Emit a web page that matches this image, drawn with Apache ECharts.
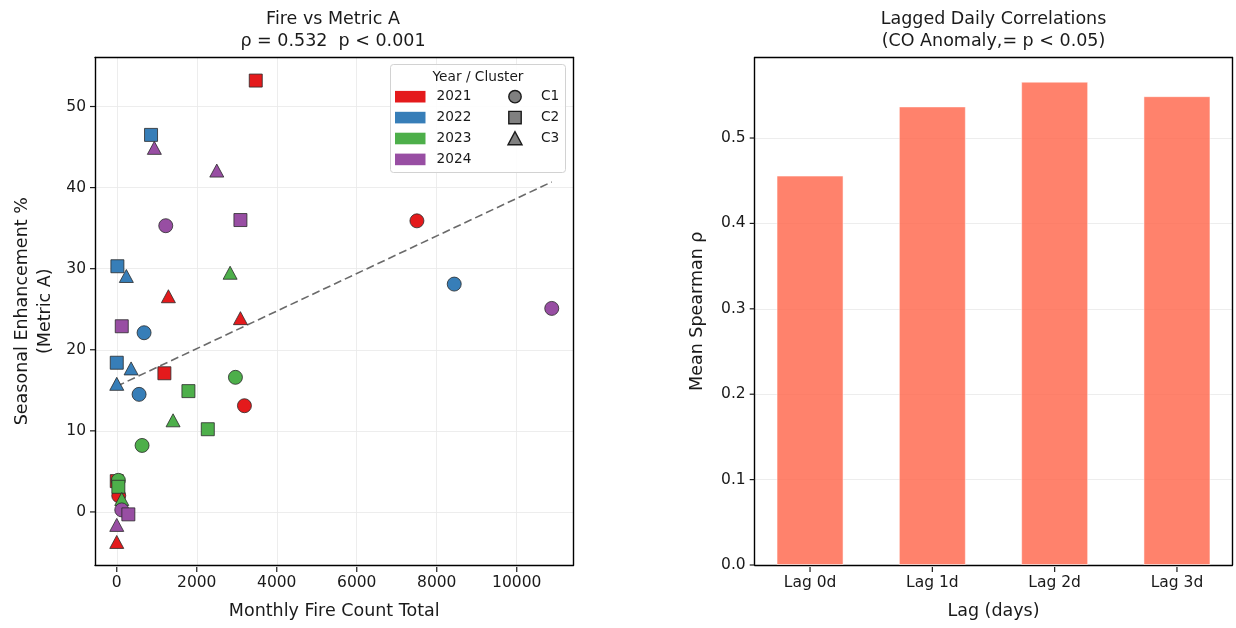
<!DOCTYPE html>
<html>
<head>
<meta charset="utf-8">
<script src="https://cdn.jsdelivr.net/npm/echarts@6/dist/echarts.min.js"></script>
<style>
  html, body { margin: 0; padding: 0; background: #ffffff; }
  #chart { width: 1236px; height: 628px; }
</style>
</head>
<body>
<div id="chart"></div>
<script>
// Monthly fire count vs. seasonal enhancement, one list per year: [fire count, enhancement %, cluster]
const points2021 = [[3475, 53.2, 'C2'], [1291, 26.6, 'C3'], [3092, 23.9, 'C3'], [7504, 35.9, 'C1'], [1191, 17.1, 'C2'], [3192, 13.1, 'C1'], [0, 3.8, 'C2'], [50, 2.0, 'C1'], [0, -3.7, 'C3']];
const points2022 = [[857, 46.5, 'C2'], [16, 30.3, 'C2'], [240, 29.1, 'C3'], [683, 22.1, 'C1'], [8437, 28.1, 'C1'], [0, 18.4, 'C2'], [358, 17.7, 'C3'], [0, 15.8, 'C3'], [558, 14.5, 'C1']];
const points2023 = [[2834, 29.5, 'C3'], [2967, 16.6, 'C1'], [1792, 14.9, 'C2'], [1408, 11.3, 'C3'], [2276, 10.2, 'C2'], [633, 8.2, 'C1'], [40, 3.9, 'C1'], [40, 3.1, 'C2'], [125, 1.6, 'C3']];
const points2024 = [[940, 44.9, 'C3'], [2501, 42.1, 'C3'], [3092, 36.0, 'C2'], [1225, 35.3, 'C1'], [125, 22.9, 'C2'], [10875, 25.1, 'C1'], [125, 0.25, 'C1'], [290, -0.3, 'C2'], [0, -1.6, 'C3']];

const years = ['2021', '2022', '2023', '2024'];
const clusters = ['C1', 'C2', 'C3'];

// Least-squares trend, end points over the fire-count range
const trendLine = [[0, 15.5], [10875, 40.7]];

// Lagged daily correlations
const lagLabels = ['Lag 0d', 'Lag 1d', 'Lag 2d', 'Lag 3d'];
const lagRho = [0.456, 0.537, 0.566, 0.549];

// Tick values
const fireTicks = [0, 2000, 4000, 6000, 8000, 10000];
const metricTicks = [0, 10, 20, 30, 40, 50];
const lagTicks = [0, 1, 2, 3];
const rhoTicks = [0, 0.1, 0.2, 0.3, 0.4, 0.5];

// Axis extents (data range plus 5% margin)
const fireRange = [-544, 11419];
const metricRange = [-6.545, 56.045];
const lagRange = [-0.4525, 3.4525];
const rhoRange = [0, 0.5943];

// Plot boxes
const gridBoxes = [
  { left: 95, top: 57.5, width: 478.5, height: 509.5 },
  { left: 754.7, top: 57.5, width: 477.6, height: 509.5 }
];

// ---- styling ----
const FONT = '"DejaVu Sans", "Liberation Sans", sans-serif';
const INK = '#1a1a1a';
const GRID_LINE = '#e8e8e8';
const TICK_LEN = 5;
const yearColors = ['#e41a1c', '#377eb8', '#4daf4a', '#984ea3'];
const clusterSymbol = { C1: 'circle', C2: 'rect', C3: 'triangle' };
const clusterSize = { C1: 14, C2: 13, C3: [14, 13] };
const pointsByYear = [points2021, points2022, points2023, points2024];

const labelStyle = { color: INK, fontFamily: FONT, fontSize: 15.5 };
const nameStyle = { color: INK, fontFamily: FONT, fontSize: 17.5, lineHeight: 23 };
const spine = { show: true, onZero: false, lineStyle: { color: '#000', width: 1.4 } };

const scatterSeries = [];
years.forEach((yr, i) => {
  clusters.forEach(c => {
    scatterSeries.push({
      type: 'scatter',
      name: yr + ' ' + c,
      xAxisIndex: 0,
      yAxisIndex: 0,
      data: pointsByYear[i].filter(p => p[2] === c).map(p => [p[0], p[1]]),
      symbol: clusterSymbol[c],
      symbolSize: clusterSize[c],
      itemStyle: { color: yearColors[i], borderColor: '#2a2a2a', borderWidth: 0.8, opacity: 1 },
      emphasis: { disabled: true },
      z: 4
    });
  });
});

// Legend box (years as colour patches, clusters as grey markers)
const legendRows = [96.7, 117.6, 138.5, 159.4];
const legendGraphics = [
  { type: 'rect', shape: { x: 390.5, y: 64.5, width: 175, height: 108, r: 3 },
    style: { fill: 'rgba(255,255,255,0.85)', stroke: '#d2d2d2', lineWidth: 1 }, z: 20 },
  { type: 'text', x: 478, y: 77, z: 21,
    style: { text: 'Year / Cluster', font: '13.7px ' + FONT, fill: INK, align: 'center', verticalAlign: 'middle' } }
];
years.forEach((yr, i) => {
  const y = legendRows[i];
  legendGraphics.push(
    { type: 'rect', shape: { x: 395, y: y - 5.8, width: 30.5, height: 11.6 },
      style: { fill: yearColors[i] }, z: 21 },
    { type: 'text', x: 436.5, y: y, z: 21,
      style: { text: yr, font: '13.7px ' + FONT, fill: INK, align: 'left', verticalAlign: 'middle' } }
  );
});
const mk = { fill: '#808080', stroke: '#1a1a1a', lineWidth: 1.4 };
legendGraphics.push(
  { type: 'circle', shape: { cx: 515, cy: legendRows[0], r: 6.2 }, style: mk, z: 21 },
  { type: 'rect', shape: { x: 508.8, y: legendRows[1] - 6.2, width: 12.4, height: 12.4 }, style: mk, z: 21 },
  { type: 'polygon', shape: { points: [[515, legendRows[2] - 6.8], [508, legendRows[2] + 6.2], [522, legendRows[2] + 6.2]] }, style: mk, z: 21 }
);
clusters.forEach((c, i) => {
  legendGraphics.push({ type: 'text', x: 541, y: legendRows[i], z: 21,
    style: { text: c, font: '13.7px ' + FONT, fill: INK, align: 'left', verticalAlign: 'middle' } });
});

const chart = echarts.init(document.getElementById('chart'), null, { renderer: 'canvas' });

const titleText = { color: INK, fontFamily: FONT, fontSize: 17.5, fontWeight: 'normal', lineHeight: 21.5 };
const plainSpine = (extra) => Object.assign({ type: 'value', axisLine: spine, axisTick: { show: false }, axisLabel: { show: false }, splitLine: { show: false } }, extra);

chart.setOption({
  backgroundColor: '#ffffff',
  animation: false,
  title: [
    { text: 'Fire vs Metric A\nρ = 0.532  p < 0.001', left: 333, top: 9, padding: 0, textAlign: 'center', textStyle: titleText },
    { text: 'Lagged Daily Correlations\n(CO Anomaly,= p < 0.05)', left: 993.5, top: 9, padding: 0, textAlign: 'center', textStyle: titleText }
  ],
  grid: gridBoxes.map(b => Object.assign({ show: false }, b)),
  xAxis: [
    {
      type: 'value', gridIndex: 0, min: fireRange[0], max: fireRange[1],
      name: 'Monthly Fire Count Total', nameLocation: 'middle', nameGap: 35, nameTextStyle: nameStyle,
      axisLine: spine,
      axisTick: { show: false, customValues: fireTicks },
      axisLabel: Object.assign({}, labelStyle, { customValues: fireTicks, margin: 10, formatter: v => String(v) }),
      splitLine: { show: true, lineStyle: { color: GRID_LINE, width: 0.8 } }
    },
    {
      type: 'value', gridIndex: 1, min: lagRange[0], max: lagRange[1],
      name: 'Lag (days)', nameLocation: 'middle', nameGap: 35, nameTextStyle: nameStyle,
      axisLine: spine,
      axisTick: { show: false, customValues: lagTicks },
      axisLabel: Object.assign({}, labelStyle, { customValues: lagTicks, margin: 10, formatter: v => lagLabels[Math.round(v)] }),
      splitLine: { show: false }
    },
    plainSpine({ gridIndex: 0, min: fireRange[0], max: fireRange[1], position: 'top' }),
    plainSpine({ gridIndex: 1, min: lagRange[0], max: lagRange[1], position: 'top' })
  ],
  yAxis: [
    {
      type: 'value', gridIndex: 0, min: metricRange[0], max: metricRange[1],
      name: 'Seasonal Enhancement %\n(Metric A)', nameLocation: 'middle', nameGap: 38, nameTextStyle: nameStyle,
      axisLine: spine,
      axisTick: { show: false, customValues: metricTicks },
      axisLabel: Object.assign({}, labelStyle, { customValues: metricTicks, margin: 9, formatter: v => String(v) }),
      splitLine: { show: true, lineStyle: { color: GRID_LINE, width: 0.8 } }
    },
    {
      type: 'value', gridIndex: 1, min: rhoRange[0], max: rhoRange[1],
      name: 'Mean Spearman ρ', nameLocation: 'middle', nameGap: 46, nameTextStyle: nameStyle,
      axisLine: spine,
      axisTick: { show: false, customValues: rhoTicks },
      axisLabel: Object.assign({}, labelStyle, { customValues: rhoTicks, margin: 9, formatter: v => v.toFixed(1) }),
      splitLine: { show: true, lineStyle: { color: GRID_LINE, width: 0.8 } }
    },
    plainSpine({ gridIndex: 0, min: metricRange[0], max: metricRange[1], position: 'right' }),
    plainSpine({ gridIndex: 1, min: rhoRange[0], max: rhoRange[1], position: 'right' })
  ],
  series: [
    {
      type: 'line', name: 'trend', xAxisIndex: 0, yAxisIndex: 0,
      data: trendLine, symbol: 'none', silent: true,
      lineStyle: { color: '#6a6a6a', width: 1.6, type: [8, 4] }, z: 3
    },
    ...scatterSeries,
    {
      type: 'bar', name: 'rho', xAxisIndex: 1, yAxisIndex: 1,
      data: lagRho.map((v, i) => [i, v]), barWidth: 67,
      itemStyle: { color: 'rgba(255,99,71,0.8)', borderColor: 'rgba(255,255,255,0.5)', borderWidth: 1 },
      emphasis: { disabled: true }, z: 3
    }
  ],
  graphic: legendGraphics
});

// Outward tick marks along the left and bottom spines, placed through each axis scale
function axisPixel(axisType, axisIndex, value, range, box) {
  let px = null;
  try {
    const finder = {};
    finder[axisType + 'AxisIndex'] = axisIndex;
    px = chart.convertToPixel(finder, value);
  } catch (e) { px = null; }
  if (typeof px !== 'number' || !isFinite(px)) {
    const t = (value - range[0]) / (range[1] - range[0]);
    px = axisType === 'x' ? box.left + t * box.width : box.top + box.height - t * box.height;
  }
  return px;
}
const tickMarks = [];
function addTicks(gi, xValues, xRange, yValues, yRange) {
  const box = gridBoxes[gi];
  const bottom = box.top + box.height;
  const left = box.left;
  xValues.forEach(v => {
    const x = axisPixel('x', gi, v, xRange, box);
    tickMarks.push({ type: 'line', silent: true, z: 30,
      shape: { x1: x, y1: bottom, x2: x, y2: bottom + TICK_LEN }, style: { stroke: INK, lineWidth: 1.2 } });
  });
  yValues.forEach(v => {
    const y = axisPixel('y', gi, v, yRange, box);
    tickMarks.push({ type: 'line', silent: true, z: 30,
      shape: { x1: left, y1: y, x2: left - TICK_LEN, y2: y }, style: { stroke: INK, lineWidth: 1.2 } });
  });
}
addTicks(0, fireTicks, fireRange, metricTicks, metricRange);
addTicks(1, lagTicks, lagRange, rhoTicks, rhoRange);

chart.setOption({ graphic: { elements: legendGraphics.concat(tickMarks) } });
</script>
</body>
</html>
